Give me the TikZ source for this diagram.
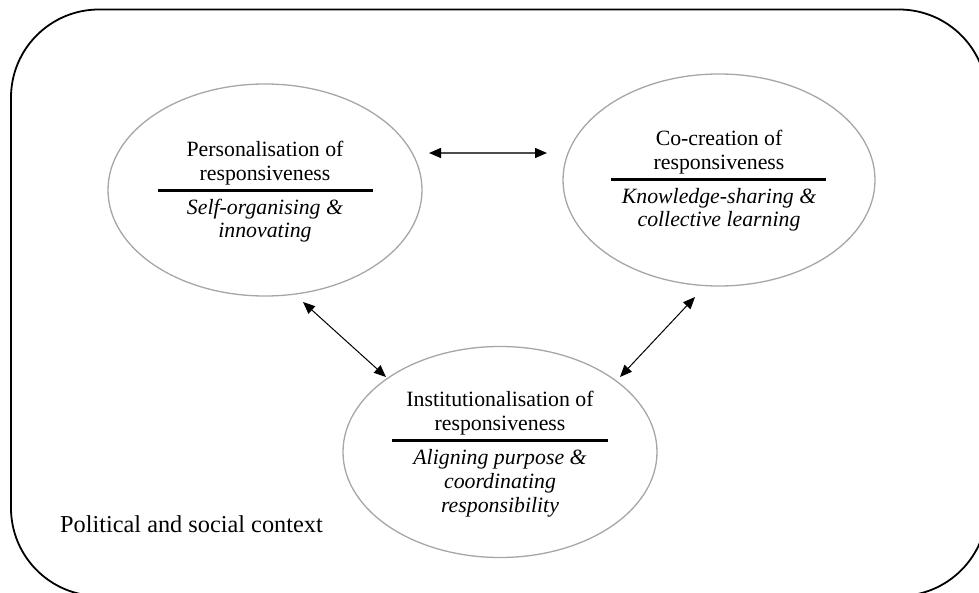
\documentclass[tikz,border=0pt]{standalone}
\usepackage{fontspec}
\setmainfont{Liberation Serif}
\usetikzlibrary{shapes.geometric,arrows.meta}
\begin{document}
\begin{tikzpicture}[x=1pt,y=-1pt,
  bubble/.style={ellipse,draw=black!35,line width=1.3pt,inner sep=0pt},
  ln/.style={anchor=base,inner sep=0pt,font=\fontsize{21.8}{24}\selectfont},
  itl/.style={anchor=base,inner sep=0pt,font=\fontsize{21.8}{24}\selectfont\itshape},
  divider/.style={line width=3pt},
  tip/.style={},
  link/.style={line width=1pt,{Triangle[length=12pt,width=10pt,color=black]}-{Triangle[length=12pt,width=10pt,color=black]}},
]
\useasboundingbox (0,0) rectangle (979,593);
\clip (0,0) rectangle (979,593);

% outer context frame
\draw[line width=1.8pt,rounded corners=88pt] (11,9.5) rectangle (987,596);
\node[anchor=base west,inner sep=0pt,font=\fontsize{24.3}{28}\selectfont] (ctx) at (60,532) {Political and social context};

% ellipses
\node[bubble,minimum width=314pt,minimum height=212pt] (pers) at (265,190) {};
\node[bubble,minimum width=312pt,minimum height=212pt] (cocr) at (719,180) {};
\node[bubble,minimum width=314pt,minimum height=211pt] (inst) at (500,452) {};

% personalisation text
\node[ln] (p1) at (265,157) {Personalisation of};
\node[ln] (p2) at (265,181) {responsiveness};
\draw[divider] (158,191) -- (373,191);
\node[itl] (p3) at (265,215) {Self-organising \&};
\node[itl] (p4) at (265,238) {innovating};

% co-creation text
\node[ln] (c1) at (719,146) {Co-creation of};
\node[ln] (c2) at (719,170) {responsiveness};
\draw[divider] (611,180) -- (826,180);
\node[itl] (c3) at (719,204) {Knowledge-sharing \&};
\node[itl] (c4) at (719,227) {collective learning};

% institutionalisation text
\node[ln] (i1) at (500,406) {Institutionalisation of};
\node[ln] (i2) at (500,430) {responsiveness};
\draw[divider] (392,440) -- (608,440);
\node[itl] (i3) at (500,464) {Aligning purpose \&};
\node[itl] (i4) at (500,488) {coordinating};
\node[itl] (i5) at (500,512) {responsibility};

% arrow end points
\coordinate (h1) at (429,153);
\coordinate (h2) at (547,153);
\coordinate (l1) at (303,302);
\coordinate (l2) at (386,377);
\coordinate (r1) at (695,297);
\coordinate (r2) at (620,377);

\draw[link,draw=black!70,line width=1.5pt] (h1) -- (h2);
\draw[link] (l1) -- (l2);
\draw[link] (r1) -- (r2);
\end{tikzpicture}
\end{document}
